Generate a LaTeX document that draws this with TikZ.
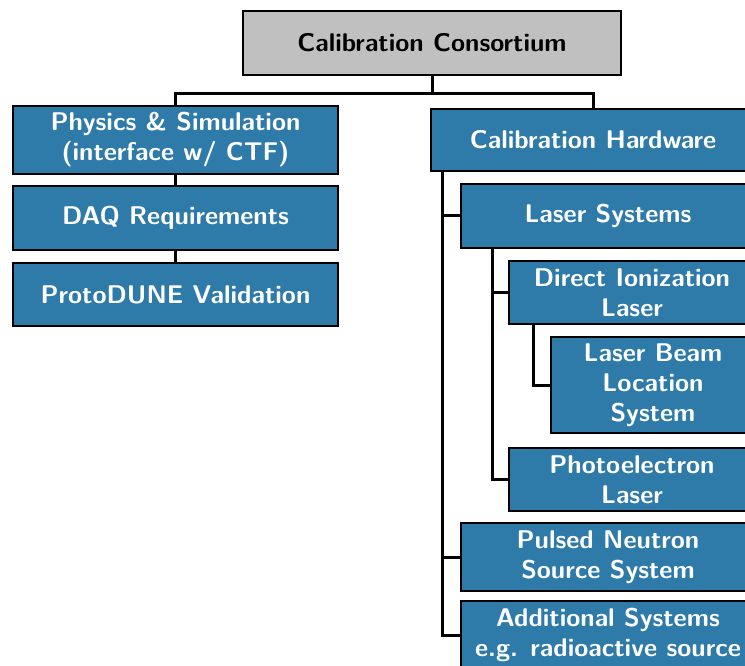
\documentclass[tikz,border=0pt]{standalone}
\usepackage{tikz}
\usepackage{xcolor}
\usetikzlibrary{positioning}

\definecolor{calblue}{RGB}{46,123,170}
\definecolor{calgray}{RGB}{192,192,192}

\begin{document}
\begin{tikzpicture}[
x=1pt, y=-1pt,
every node/.style={font=\fontsize{25.6}{30}\selectfont\sffamily\bfseries},
unit/.style={draw, line width=2pt, anchor=north west, align=center, inner sep=0pt, fill=calblue, text=white},
head/.style={unit, fill=calgray, text=black},
link/.style={line width=3pt}
]
\useasboundingbox (0,0) rectangle (745,666);

\node[head, minimum width=378pt, minimum height=64pt] (consortium) at (242,10) {Calibration Consortium};

% left branch
\node[unit, minimum width=325pt, minimum height=68pt] (physics) at (12,105) {Physics \& Simulation\\(interface w/ CTF)};
\node[unit, minimum width=325pt, minimum height=64pt] (daq) at (12,185) {DAQ Requirements};
\node[unit, minimum width=325pt, minimum height=63pt] (proto) at (12,262) {ProtoDUNE Validation};

% right branch
\node[unit, minimum width=324pt, minimum height=62pt] (hardware) at (430,108) {Calibration Hardware};
\node[unit, minimum width=294pt, minimum height=64pt] (laser) at (460,183) {Laser Systems};
\node[unit, minimum width=246pt, minimum height=63pt] (ionlaser) at (508,260) {Direct Ionization\\Laser};
\node[unit, minimum width=204pt, minimum height=96pt] (beamloc) at (550,336) {Laser Beam\\Location\\System};
\node[unit, minimum width=246pt, minimum height=63pt] (pelaser) at (508,447) {Photoelectron\\Laser};
\node[unit, minimum width=294pt, minimum height=68pt] (neutron) at (460,522) {Pulsed Neutron\\Source System};
\node[unit, minimum width=294pt, minimum height=68pt] (additional) at (460,600) {Additional Systems\\e.g. radioactive source};

\draw[link] (consortium.south) -- ++(0,18) -| (physics.north);
\draw[link] (consortium.south) -- ++(0,18) -| (hardware.north);
\draw[link] (physics) -- (daq);
\draw[link] (daq) -- (proto);

\draw[link] ([xshift=12pt]hardware.south west) |- (laser.west);
\draw[link] ([xshift=12pt]hardware.south west) |- (neutron.west);
\draw[link] ([xshift=12pt]hardware.south west) |- (additional.west);
\draw[link] ([xshift=32pt]laser.south west) |- (ionlaser.west);
\draw[link] ([xshift=32pt]laser.south west) |- (pelaser.west);
\draw[link] ([xshift=25pt]ionlaser.south west) |- (beamloc.west);
\end{tikzpicture}
\end{document}
